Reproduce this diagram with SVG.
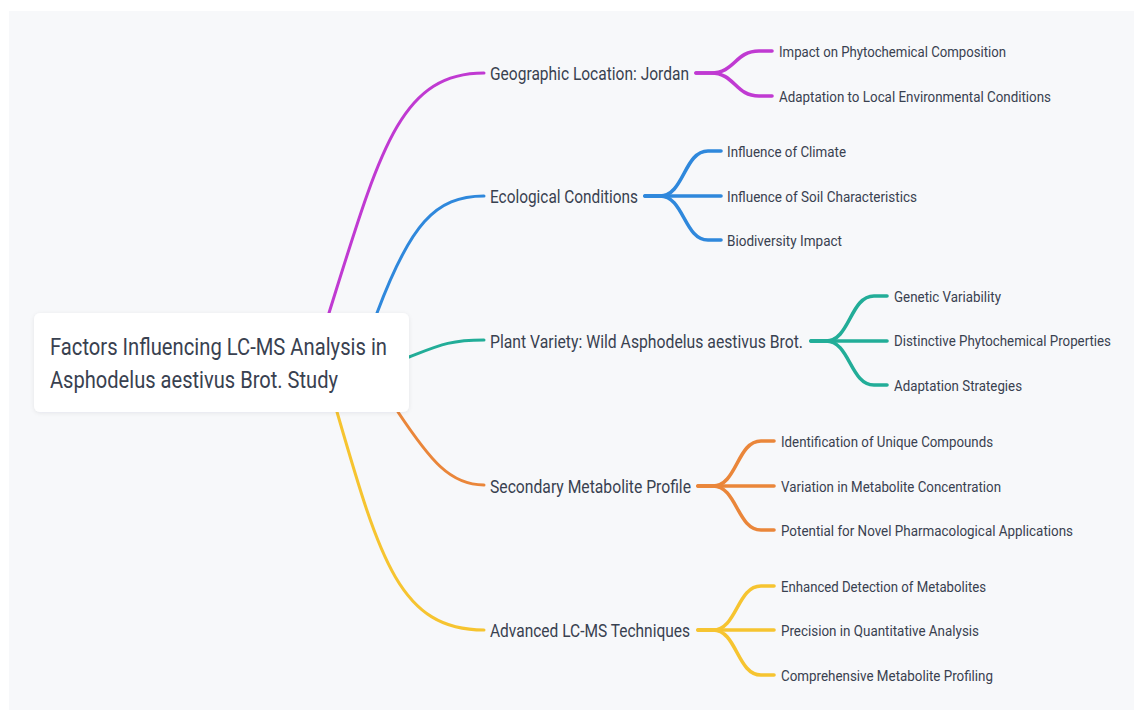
<svg xmlns="http://www.w3.org/2000/svg" width="1134" height="710" viewBox="0 0 1134 710">
  <defs>
    <style>
      text { font-family: Roboto, "Liberation Sans", sans-serif; fill: #394150; }
      .root { font-size: 23px; }
      .main { font-size: 18px; }
      .leaf { font-size: 15.5px; }
      .leaf.tight { font-size: 14px; }
      .link { fill: none; stroke-linecap: round; stroke-linejoin: round; }
      .l1 { stroke-width: 3; }
      .l2 { stroke-width: 3.6; }
      .magenta { stroke: #c03ad2; }
      .blue { stroke: #2f88dc; }
      .teal { stroke: #22ad98; }
      .orange { stroke: #ea863a; }
      .yellow { stroke: #f6c430; }
    </style>
    <filter id="softShadow" x="-10%" y="-20%" width="120%" height="150%">
      <feDropShadow dx="0" dy="1" stdDeviation="2" flood-color="#1f2937" flood-opacity="0.08"/>
    </filter>
  </defs>

  <!-- canvas -->
  <rect x="0" y="0" width="1134" height="710" fill="#ffffff"/>
  <rect x="9" y="11" width="1125" height="699" fill="#f7f8fa"/>

  <!-- connectors -->
  <g id="connectors">
    <!-- root to main topics -->
    <path class="link l1 magenta" d="M 329 313 C 380 150, 400 73, 484 73"/>
    <path class="link l1 blue" d="M 377 313 C 410 225, 435 196, 484 196"/>
    <path class="link l1 teal" d="M 409 357 C 440 345, 450 340, 484 340"/>
    <path class="link l1 orange" d="M 398 412 C 430 460, 450 485, 484 485"/>
    <path class="link l1 yellow" d="M 337 412 C 380 560, 400 630, 484 630"/>

    <!-- Geographic Location -->
    <path class="link l2 magenta" d="M 696 73 H 711 C 735 73, 735 51, 759 51 H 772"/>
    <path class="link l2 magenta" d="M 696 73 H 711 C 735 73, 735 96, 759 96 H 772"/>

    <!-- Ecological Conditions -->
    <path class="link l2 blue" d="M 645 196 H 660 C 684 196, 684 151, 708 151 H 721"/>
    <path class="link l2 blue" d="M 645 196 H 721"/>
    <path class="link l2 blue" d="M 645 196 H 660 C 684 196, 684 240, 708 240 H 721"/>

    <!-- Plant Variety -->
    <path class="link l2 teal" d="M 811 341 H 826 C 850 341, 850 296, 874 296 H 887"/>
    <path class="link l2 teal" d="M 811 341 H 887"/>
    <path class="link l2 teal" d="M 811 341 H 826 C 850 341, 850 385, 874 385 H 887"/>

    <!-- Secondary Metabolite Profile -->
    <path class="link l2 orange" d="M 698 486 H 713 C 737 486, 737 441, 761 441 H 774"/>
    <path class="link l2 orange" d="M 698 486 H 774"/>
    <path class="link l2 orange" d="M 698 486 H 713 C 737 486, 737 530, 761 530 H 774"/>

    <!-- Advanced LC-MS Techniques -->
    <path class="link l2 yellow" d="M 698 630 H 713 C 737 630, 737 586, 761 586 H 774"/>
    <path class="link l2 yellow" d="M 698 630 H 774"/>
    <path class="link l2 yellow" d="M 698 630 H 713 C 737 630, 737 675, 761 675 H 774"/>
  </g>

  <!-- root -->
  <g id="root">
    <rect x="34" y="313" width="375" height="99" rx="6" fill="#ffffff" filter="url(#softShadow)"/>
    <text class="root" x="50" y="355" textLength="337" lengthAdjust="spacingAndGlyphs">Factors Influencing LC-MS Analysis in</text>
    <text class="root" x="50" y="388" textLength="288" lengthAdjust="spacingAndGlyphs">Asphodelus aestivus Brot. Study</text>
  </g>

  <!-- main topics -->
  <g id="geographic-location">
    <text class="main" x="490" y="79.5" textLength="199" lengthAdjust="spacingAndGlyphs">Geographic Location: Jordan</text>
  </g>
  <g id="ecological-conditions">
    <text class="main" x="490" y="202.5" textLength="148" lengthAdjust="spacingAndGlyphs">Ecological Conditions</text>
  </g>
  <g id="plant-variety">
    <text class="main" x="490" y="347.5" textLength="313" lengthAdjust="spacingAndGlyphs">Plant Variety: Wild Asphodelus aestivus Brot.</text>
  </g>
  <g id="secondary-metabolite-profile">
    <text class="main" x="490" y="492.5" textLength="201" lengthAdjust="spacingAndGlyphs">Secondary Metabolite Profile</text>
  </g>
  <g id="advanced-lcms">
    <text class="main" x="490" y="636.5" textLength="200" lengthAdjust="spacingAndGlyphs">Advanced LC-MS Techniques</text>
  </g>

  <!-- leaves -->
  <g id="impact-phytochemical">
    <text class="leaf" x="779" y="56.5" textLength="227" lengthAdjust="spacingAndGlyphs">Impact on Phytochemical Composition</text>
  </g>
  <g id="adaptation-local">
    <text class="leaf" x="779" y="101.5" textLength="272" lengthAdjust="spacingAndGlyphs">Adaptation to Local Environmental Conditions</text>
  </g>
  <g id="influence-climate">
    <text class="leaf" x="727" y="156.5" textLength="119" lengthAdjust="spacingAndGlyphs">Influence of Climate</text>
  </g>
  <g id="influence-soil">
    <text class="leaf" x="727" y="201.5" textLength="190" lengthAdjust="spacingAndGlyphs">Influence of Soil Characteristics</text>
  </g>
  <g id="biodiversity-impact">
    <text class="leaf" x="727" y="245.5" textLength="115" lengthAdjust="spacingAndGlyphs">Biodiversity Impact</text>
  </g>
  <g id="genetic-variability">
    <text class="leaf" x="894" y="301.5" textLength="107" lengthAdjust="spacingAndGlyphs">Genetic Variability</text>
  </g>
  <g id="distinctive-properties">
    <text class="leaf tight" x="894" y="346" textLength="217" lengthAdjust="spacingAndGlyphs">Distinctive Phytochemical Properties</text>
  </g>
  <g id="adaptation-strategies">
    <text class="leaf" x="894" y="390.5" textLength="128" lengthAdjust="spacingAndGlyphs">Adaptation Strategies</text>
  </g>
  <g id="unique-compounds">
    <text class="leaf" x="781" y="446.5" textLength="212" lengthAdjust="spacingAndGlyphs">Identification of Unique Compounds</text>
  </g>
  <g id="metabolite-concentration">
    <text class="leaf" x="781" y="491.5" textLength="220" lengthAdjust="spacingAndGlyphs">Variation in Metabolite Concentration</text>
  </g>
  <g id="pharmacological-applications">
    <text class="leaf" x="781" y="535.5" textLength="292" lengthAdjust="spacingAndGlyphs">Potential for Novel Pharmacological Applications</text>
  </g>
  <g id="enhanced-detection">
    <text class="leaf" x="781" y="591.5" textLength="205" lengthAdjust="spacingAndGlyphs">Enhanced Detection of Metabolites</text>
  </g>
  <g id="quantitative-precision">
    <text class="leaf" x="781" y="635.5" textLength="198" lengthAdjust="spacingAndGlyphs">Precision in Quantitative Analysis</text>
  </g>
  <g id="metabolite-profiling">
    <text class="leaf" x="781" y="680.5" textLength="212" lengthAdjust="spacingAndGlyphs">Comprehensive Metabolite Profiling</text>
  </g>
</svg>
